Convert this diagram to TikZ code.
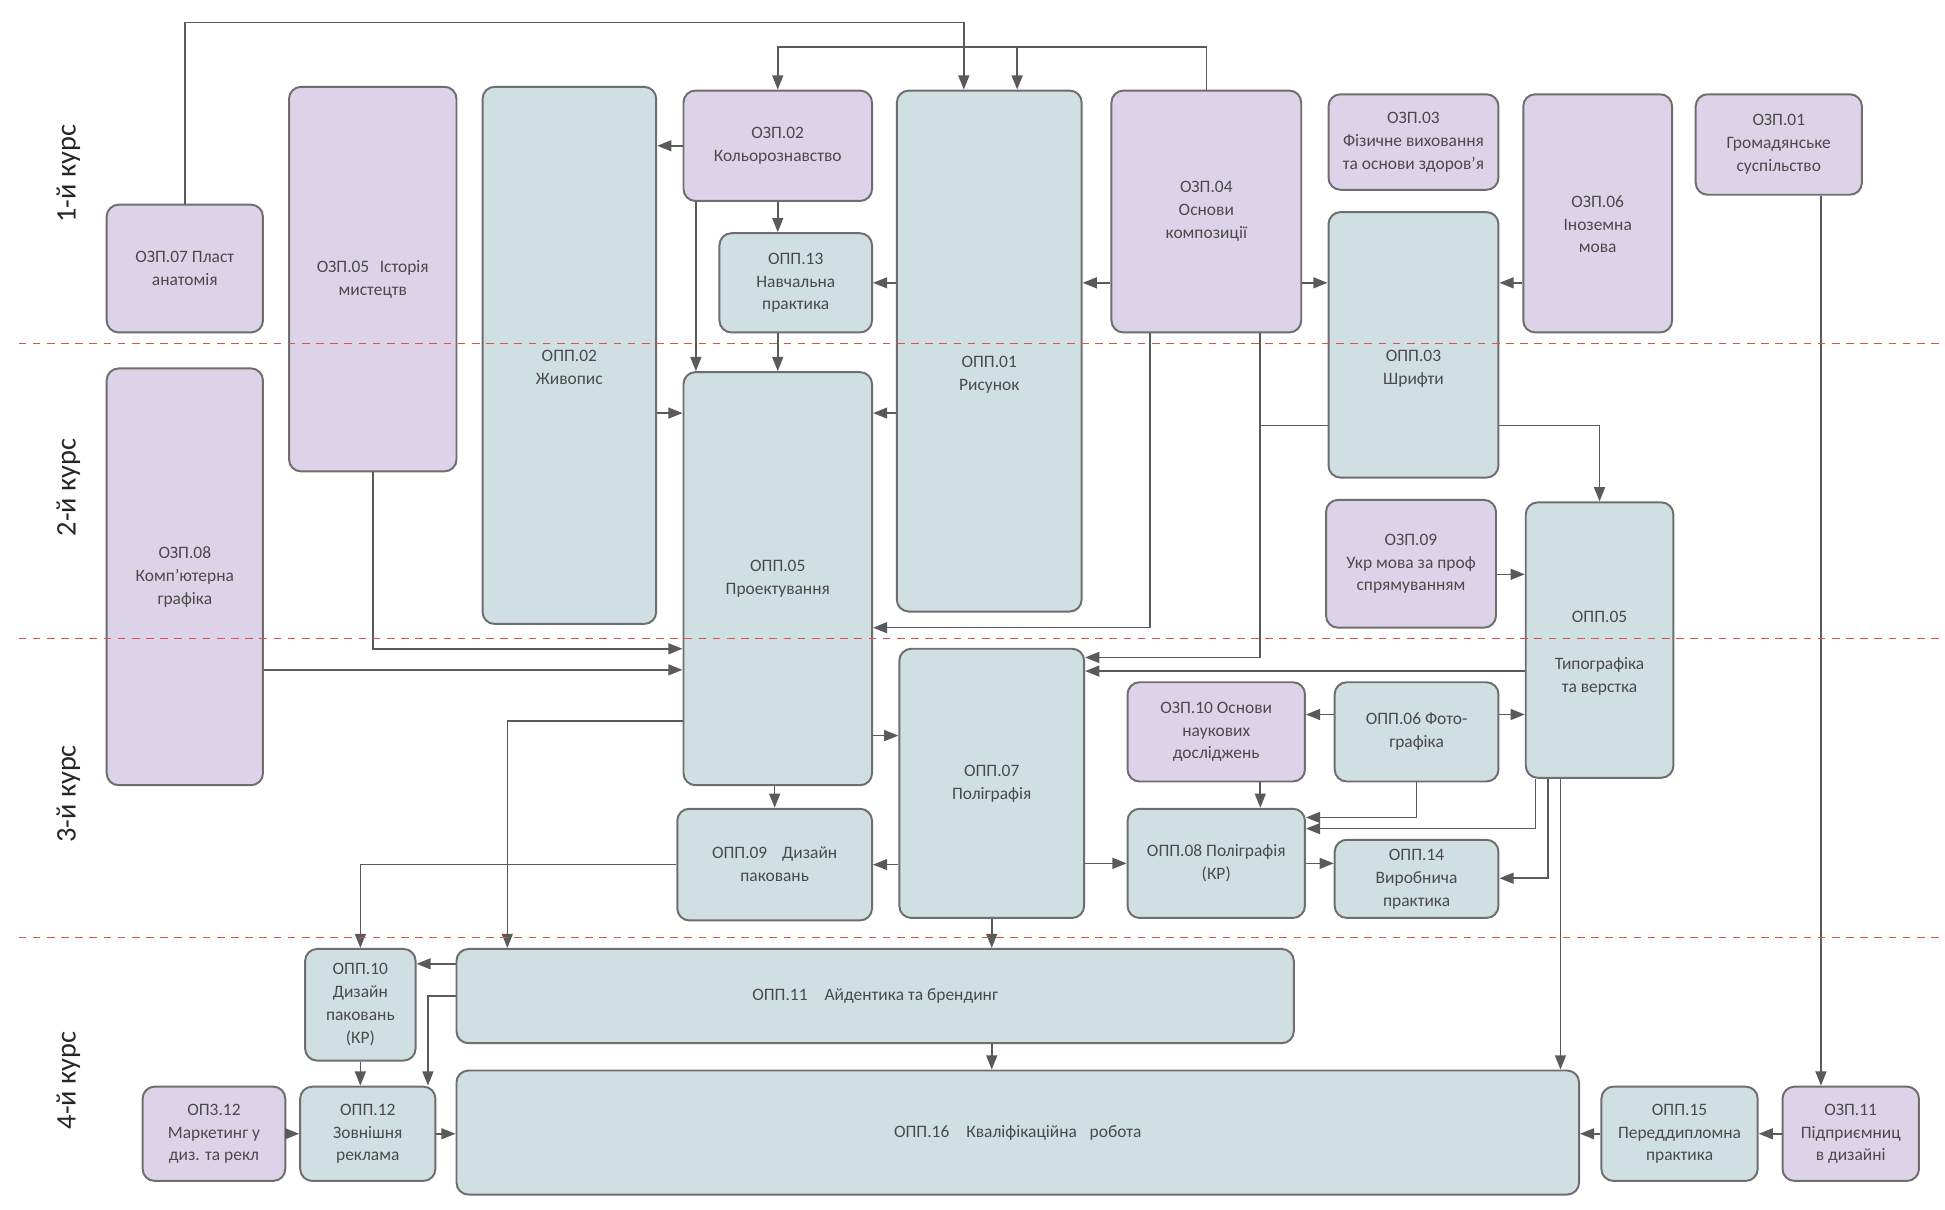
\documentclass[tikz,border=0pt]{standalone}
\usepackage{fontspec}
\setmainfont{Carlito}
\usetikzlibrary{arrows.meta,calc}

\definecolor{zpfill}{HTML}{DCD3E8}
\definecolor{opfill}{HTML}{D0DFE2}
\definecolor{edge}{HTML}{6E6E6E}
\definecolor{wirecol}{HTML}{5A5A5A}
\definecolor{ink}{HTML}{4A4A4A}
\definecolor{sepred}{HTML}{D9534F}

% pushes a box text down
\newcommand{\lowtext}[1]{\rule{0pt}{#1}}

\begin{document}
\begin{tikzpicture}[x=0.02cm, y=-0.02cm,
    box/.style={draw=edge, line width=0.9pt, rounded corners=5.5pt, align=center,
      text=ink, inner sep=1pt, font=\fontsize{8}{10.5}\selectfont},
    zp/.style={box, fill=zpfill},
    op/.style={box, fill=opfill},
    sz/.style 2 args={minimum width=#1*0.02cm, minimum height=#2*0.02cm},
    wire/.style={draw=wirecol, line width=0.75pt},
    arr/.style={wire, -{Triangle[length=6.5pt,width=5pt]}},
    sep/.style={draw=sepred, line width=0.6pt, dash pattern=on 3.5pt off 3pt},
    course/.style={rotate=90, font=\fontsize{13}{15}\selectfont, text=black!85}]

  \fill[white] (0,0) rectangle (1568,975);
  \useasboundingbox (0,0) rectangle (1568,975);

  % course labels
  \foreach \y/\t [count=\i] in {140/1-й курс, 393/2-й курс, 640/3-й курс, 871/4-й курс}
    \node[course] (kurs\i) at (55,\y) {\t};

  % 1st year
  \node[zp, sz={126}{103}] (z07) at (149,216.5) {ОЗП.07 Пласт\\анатомія};
  \node[zp, sz={135}{310}] (z05) at (300.5,225) {ОЗП.05\hspace{3pt} Історія\\мистецтв};
  \node[op, sz={140}{433}] (p02) at (459,286.5) {\lowtext{16.6pt}ОПП.02\\Живопис};
  \node[zp, sz={152}{89}] (z02) at (627,117.5) {ОЗП.02\\Кольорознавство};
  \node[op, sz={123}{80}] (p13) at (641.5,228) {ОПП.13\\Навчальна\\практика};
  \node[op, sz={149}{420}] (p01) at (797.5,283) {\lowtext{26.8pt}ОПП.01\\Рисунок};
  \node[zp, sz={153}{195}] (z04) at (972.5,170.5) {ОЗП.04\\Основи\\композиції};
  \node[zp, sz={137}{77}] (z03) at (1139.5,114.5) {ОЗП.03\\Фізичне виховання\\та основи здоров’я};
  \node[zp, sz={120}{192}] (z06) at (1288,172) {\lowtext{15.4pt}ОЗП.06\\Іноземна\\мова};
  \node[zp, sz={134}{81}] (z01) at (1434,116.5) {ОЗП.01\\Громадянське\\суспільство};
  \node[op, sz={137}{214}] (p03) at (1139.5,278) {\lowtext{26.8pt}ОПП.03\\Шрифти};

  % 2nd year
  \node[zp, sz={126}{336}] (z08) at (149,465) {ОЗП.08\\Комп’ютерна\\графіка};
  \node[op, sz={152}{333}] (p05) at (627,466.5) {ОПП.05\\Проектування};
  \node[zp, sz={137}{103}] (z09) at (1137.5,454.5) {ОЗП.09\\Укр мова за проф\\спрямуванням};
  \node[op, sz={119}{222}] (t05) at (1289.5,516) {\lowtext{17pt}ОПП.05\\[11pt]Типографіка\\та верстка};

  % 3rd year
  \node[op, sz={149}{217}] (p07) at (799.5,631.5) {ОПП.07\\Поліграфія};
  \node[zp, sz={143}{80}] (z10) at (980.5,590) {ОЗП.10 Основи\\наукових\\досліджень};
  \node[op, sz={132}{80}] (p06) at (1142,590) {ОПП.06 Фото-\\графіка};
  \node[op, sz={157}{90}] (p09) at (624.5,697) {ОПП.09\hspace{5pt} Дизайн\\паковань};
  \node[op, sz={143}{88}] (p08) at (980.5,696) {ОПП.08 Поліграфія\\(КР)};
  \node[op, sz={132}{63}] (p14) at (1142,708.5) {ОПП.14\\Виробнича\\практика};

  % 4th year
  \node[op, sz={89}{90}] (p10) at (290.5,810) {ОПП.10\\Дизайн\\паковань\\(КР)};
  \node[op, sz={675}{76}] (p11) at (705.5,803) {ОПП.11\hspace{6pt} Айдентика та брендинг};
  \node[zp, sz={115}{76}] (z12) at (172.5,914) {ОП3.12\\Маркетинг у\\диз. та рекл};
  \node[op, sz={109}{76}] (p12) at (296.5,914) {ОПП.12\\Зовнішня\\реклама};
  \node[op, sz={905}{100}] (p16) at (820.5,913) {ОПП.16\hspace{6pt} Кваліфікаційна\hspace{4pt} робота};
  \node[op, sz={126}{76}] (p15) at (1354,914) {ОПП.15\\Переддипломна\\практика};
  \node[zp, sz={110}{76}] (z11) at (1492,914) {ОЗП.11\\Підприємниц\\в дизайні};

  % lanes for the connectors
  \foreach \n/\v in {h18/18, h38/38, h228/228, h333/333, h343/343, h463/463,
      h506/506, h523/523, h530/530, h540/540, h541/541, h576/576, h581/581,
      h593/593, h659/659, h668/668, h708/708, h777/777}
    \coordinate (\n) at (0,\v);
  \foreach \n/\v in {v345/345, v409/409, v561/561, v777/777, v820/820, v927/927,
      v1016/1016, v1238/1238, v1248/1248, v1258/1258, v1468/1468}
    \coordinate (\n) at (\v,0);

  % 1st year links
  \draw[arr] (z07.north) |- (v777 |- h18) -- (v777 |- p01.north);
  \draw[arr] (z04.north) |- (z02.north |- h38) -- (z02.north);
  \draw[arr] (v820 |- h38) -- (v820 |- p01.north);
  \draw[arr] (z02.west) -- (z02.west -| p02.east);
  \draw[arr] (z02.south) -- (z02.south |- p13.north);
  \draw[arr] (v561 |- z02.south) -- (v561 |- p05.north);
  \draw[arr] (z02.south |- p13.south) -- (z02.south |- p05.north);
  \draw[arr] (p01.west |- h228) -- (p13.east |- h228);
  \draw[arr] (z04.west |- h228) -- (p01.east |- h228);
  \draw[arr] (z04.east |- h228) -- (p03.west |- h228);
  \draw[arr] (z06.west |- h228) -- (p03.east |- h228);
  \draw[arr] (v1468 |- z01.south) -- (v1468 |- z11.north);

  % 2nd year links
  \draw[arr] (p02.east |- h333) -- (p05.west |- h333);
  \draw[arr] (p01.west |- h333) -- (p05.east |- h333);
  \draw[arr] (v927 |- z04.south) |- (p05.east |- h506);
  \draw[arr] (v1016 |- z04.south) |- (p07.east |- h530);
  \draw[wire] (p03.west |- h343) -- (v1016 |- h343);
  \draw[arr] (p03.east |- h343) -| (t05.north);
  \draw[arr] (z09.east |- h463) -- (t05.west |- h463);
  \draw[arr] (z05.south) |- (p05.west |- h523);
  \draw[arr] (z08.east |- h540) -- (p05.west |- h540);

  % 3rd year links
  \draw[arr] (t05.west |- h541) -- (p07.east |- h541);
  \draw[arr] (p06.west |- h576) -- (z10.east |- h576);
  \draw[arr] (p06.east |- h576) -- (t05.west |- h576);
  \draw[arr] (v1016 |- z10.south) -- (v1016 |- p08.north);
  \draw[arr] (p06.south) |- (p08.east |- h659);
  \draw[arr] (v1238 |- t05.south) |- (p08.east |- h668);
  \draw[arr] (v1248 |- t05.south) |- (p14.east |- h708);
  \draw[arr] (v1258 |- t05.south) -- (v1258 |- p16.north);
  \draw[arr] (p09.north |- p05.south) -- (p09.north);
  \draw[arr] (p05.east |- h593) -- (p07.west |- h593);
  \draw[arr] (p07.west |- p09.east) -- (p09.east);
  \draw[arr] (p07.east |- p08.west) -- (p08.west);
  \draw[arr] (p08.east) -- (p08.east -| p14.west);
  \draw[arr] (p07.south) -- (p07.south |- p11.north);
  \draw[arr] (p09.west) -| (p10.north);
  \draw[arr] (p05.west |- h581) -| (v409 |- p11.north);

  % 4th year links
  \draw[arr] (p07.south |- p11.south) -- (p07.south |- p16.north);
  \draw[arr] (p11.west |- h777) -- (p10.east |- h777);
  \draw[arr] (p11.west) -| (v345 |- p12.north);
  \draw[arr] (p10.south) -- (p10.south |- p12.north);
  \draw[arr] (z12.east) -- (z12.east -| p12.west);
  \draw[arr] (p12.east) -- (p12.east -| p16.west);
  \draw[arr] (p15.west) -- (p15.west -| p16.east);
  \draw[arr] (z11.west) -- (z11.west -| p15.east);

  % year borders
  \foreach \y in {277,515,756}
    \draw[sep] (15,\y) -- (1565,\y);
\end{tikzpicture}
\end{document}
